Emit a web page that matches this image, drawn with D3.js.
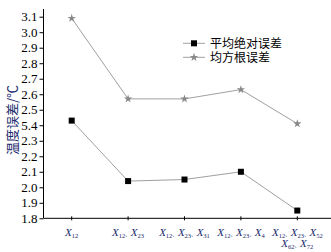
<!DOCTYPE html>
<html><head><meta charset="utf-8">
<script src="https://cdn.jsdelivr.net/npm/d3@7"></script>
<style>body{margin:0;background:#fff}svg{display:block}</style>
</head><body>
<script>
const categories = [
  [["X","12"]],
  [["X","12"],["X","23"]],
  [["X","12"],["X","23"],["X","31"]],
  [["X","12"],["X","23"],["X","4"]],
  [["X","12"],["X","23"],["X","52"],["X","62"],["X","72"]]
];
const maeValues = [2.43, 2.04, 2.05, 2.10, 1.85];
const rmseValues = [3.09, 2.57, 2.57, 2.63, 2.41];
const yTicks = [1.8,1.9,2.0,2.1,2.2,2.3,2.4,2.5,2.6,2.7,2.8,2.9,3.0,3.1];
const yTickLabels = ["1.8","1.9","2.0","2.1","2.2","2.3","5.4","2.5","2.6","2.7","2.8","2.9","3.0","3.1"];
const seriesNames = ["平均绝对误差","均方根误差"];
const yTitle = "温度误差/℃";

const W=331,H=252;
const svg=d3.select("body").append("svg").attr("width",W).attr("height",H);
const x=d3.scaleBand().domain(d3.range(categories.length)).range([43.5,325.5]);
const y=d3.scaleLinear().domain([1.8,3.1]).range([218.3,16.7]);
const cx=i=>x(i)+x.bandwidth()/2;

// y axis
const ya=svg.append("g").attr("transform","translate(43.5,0)")
  .call(d3.axisLeft(y).tickValues(yTicks).tickSize(4).tickPadding(2).tickFormat((d,i)=>yTickLabels[i]));
ya.select(".domain").remove();
ya.append("line").attr("x1",0).attr("x2",0).attr("y1",9).attr("y2",218.3).attr("stroke","#000");
ya.selectAll("text").attr("font-family","Liberation Serif").attr("font-size",13).attr("fill","#000");

// x axis
const xa=svg.append("g").attr("transform","translate(0,218.3)")
  .call(d3.axisBottom(x).tickSize(3).tickFormat(""));
xa.select(".domain").remove();
xa.append("line").attr("x1",43.5).attr("x2",331).attr("stroke","#000");
xa.selectAll(".tick line").attr("y1",-2).attr("y2",2);

// x labels
categories.forEach((cat,i)=>{
  const lines = cat.length>3 ? [cat.slice(0,3),cat.slice(3)] : [cat];
  lines.forEach((ln,li)=>{
    const t=svg.append("text").attr("x",cx(i)).attr("y",235.5+li*11).attr("text-anchor","middle")
      .attr("font-family","Liberation Serif").attr("font-size",11).attr("fill","#1a2a6c");
    ln.forEach((p,k)=>{
      if(k>0) t.append("tspan").attr("font-size",5.5).attr("font-family","Noto Sans CJK SC").attr("dy",-2).text("、");
      t.append("tspan").attr("font-style","italic").attr("dy",k>0?0:null).text(p[0]);
      t.append("tspan").attr("font-size",6.5).attr("dy",2).text(p[1]);
    });
  });
});

// lines
const line=d3.line().x((d,i)=>cx(i)).y(d=>y(d));
svg.append("path").datum(rmseValues).attr("d",line).attr("fill","none").attr("stroke","#a0a0a0").attr("stroke-width",1);
svg.append("path").datum(maeValues).attr("d",line).attr("fill","none").attr("stroke","#a0a0a0").attr("stroke-width",1);
const star=d3.symbol().type(d3.symbolStar).size(22);
svg.selectAll(".star").data(rmseValues).join("path").attr("transform",(d,i)=>`translate(${cx(i)},${y(d)})`).attr("d",star).attr("fill","#888");
svg.selectAll(".sq").data(maeValues).join("rect").attr("x",(d,i)=>cx(i)-3).attr("y",d=>y(d)-3).attr("width",6).attr("height",6).attr("fill","#000");

// legend
const lg=svg.append("g");
[0,1].forEach(k=>{
  const ly=43.3+k*14;
  lg.append("line").attr("x1",183).attr("x2",205).attr("y1",ly).attr("y2",ly).attr("stroke","#a0a0a0");
  if(k===0) lg.append("rect").attr("x",191).attr("y",ly-3).attr("width",6).attr("height",6).attr("fill","#000");
  else lg.append("path").attr("transform",`translate(194,${ly})`).attr("d",star).attr("fill","#888");
  lg.append("text").attr("x",210).attr("y",ly+4.2).attr("font-family","Noto Sans CJK SC").attr("font-size",12).attr("fill","#000").text(seriesNames[k]);
});

// y title
svg.append("text").attr("transform","translate(17,120) rotate(-90)").attr("text-anchor","middle")
  .attr("font-family","Noto Sans CJK SC").attr("font-size",13).attr("fill","#1a2a6c").text(yTitle);
</script>
</body></html>
